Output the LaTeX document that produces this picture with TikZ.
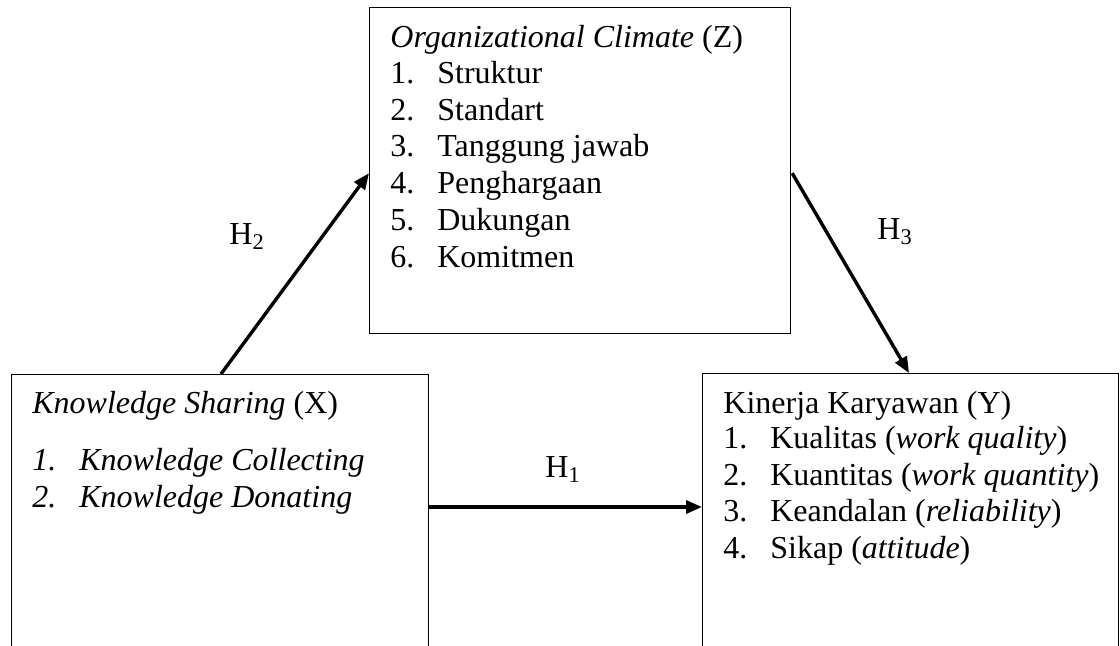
\documentclass[tikz,border=0pt]{standalone}
\usepackage{fontspec}
\setmainfont{Liberation Serif}
\usetikzlibrary{arrows.meta,calc}
\newcommand\itm[2]{\makebox[23.5pt][l]{#1}#2}
\begin{document}
\begin{tikzpicture}[x=0.5pt,y=-0.5pt,
  box/.style={draw=black,line width=0.6pt,anchor=north west,inner sep=0pt},
  txt/.style={anchor=base west,inner sep=0pt,font=\fontsize{16}{18}\selectfont},
  arr/.style={line width=1.7pt,-{Triangle[length=8pt,width=6.5pt]}}]
\useasboundingbox (0,0) rectangle (1120,645);
\clip (0,0) rectangle (1120,645);
% boxes
\node[box,minimum width=210.5pt,minimum height=163pt] (z) at (369,7) {};
\node[box,minimum width=208.5pt,minimum height=150pt] (x) at (11,374) {};
\node[box,minimum width=208pt,minimum height=150pt] (y) at (702,373) {};
% Z text
\node[txt] (z0) at (390,47) {\textit{Organizational Climate} (Z)};
\node[txt] (z1) at (390,83.5) {\itm{1.}{Struktur}};
\node[txt] (z2) at (390,120.2) {\itm{2.}{Standart}};
\node[txt] (z3) at (390,156.9) {\itm{3.}{Tanggung jawab}};
\node[txt] (z4) at (390,193.6) {\itm{4.}{Penghargaan}};
\node[txt] (z5) at (390,230.3) {\itm{5.}{Dukungan}};
\node[txt] (z6) at (390,267) {\itm{6.}{Komitmen}};
% X text
\node[txt] (x0) at (32,413) {\textit{Knowledge Sharing} (X)};
\node[txt] (x1) at (32,470) {\textit{\itm{1.}{Knowledge Collecting}}};
\node[txt] (x2) at (32,507) {\textit{\itm{2.}{Knowledge Donating}}};
% Y text
\node[txt] (y0) at (723,413) {Kinerja Karyawan (Y)};
\node[txt] (y1) at (723,448.5) {\itm{1.}{Kualitas (\textit{work quality})}};
\node[txt] (y2) at (723,485) {\itm{2.}{Kuantitas (\textit{work quantity})}};
\node[txt] (y3) at (723,521.5) {\itm{3.}{Keandalan (\textit{reliability})}};
\node[txt] (y4) at (723,558) {\itm{4.}{Sikap (\textit{attitude})}};
% arrows
\draw[arr] ($(x.north east)+(0,133)$) -- ($(y.north west)+(0,134)$);
\draw[arr] ($(x.north west)+(210,0)$) -- ($(z.south west)+(0,-161)$);
\draw[arr] ($(z.south east)+(1,-161)$) -- ($(y.north west)+(207,0)$);
% labels
\node[txt] (h1) at (545,477) {H\textsubscript{1}};
\node[txt] (h2) at (229,244) {H\textsubscript{2}};
\node[txt] (h3) at (877,239) {H\textsubscript{3}};
\end{tikzpicture}
\end{document}
